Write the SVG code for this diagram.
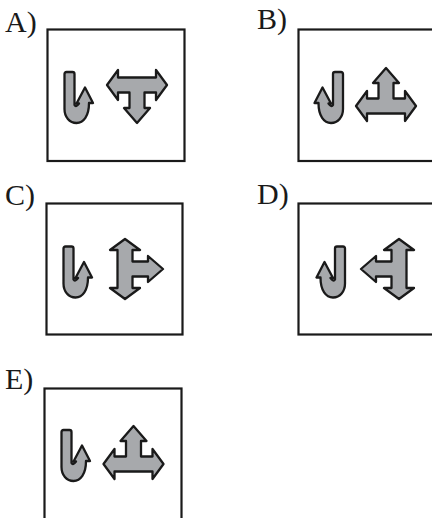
<svg xmlns="http://www.w3.org/2000/svg" xmlns:xlink="http://www.w3.org/1999/xlink" width="432" height="518" viewBox="0 0 432 518">
<style>
.box{fill:none;stroke:#1a1a1a;stroke-width:2.2}
.shape{fill:#a7a9ac;stroke:#1a1a1a;stroke-width:2.3;stroke-linejoin:round}
.lbl{font-family:"Liberation Serif","Times New Roman",serif;font-size:30px;fill:#1a1a1a}
</style>
<defs>
<path id="hook" class="shape" d="M -5 2 Q -5 0 -3 0 L 3 0 Q 5 0 5 2 L 5 33 Q 6.5 35.5 9.5 31.5 L 7 31.5 L 15.5 15.5 L 23.5 31 L 19.5 31 C 19.5 44 14 51 7 51 C 0 51 -5 45 -5 37 Z"/>
<path id="tee" class="shape" d="M -30 0 L -19 -15 L -19 -7.5 L 19 -7.5 L 19 -15 L 30 0 L 19 15 L 19 7.5 L 7.5 7.5 L 7.5 23 L 13 23 L 0 38 L -13 23 L -7.5 23 L -7.5 7.5 L -19 7.5 L -19 15 Z"/>
</defs>
<g id="optionA">
<text class="lbl" x="5" y="32">A)</text>
<rect class="box" x="47.5" y="29.5" width="137" height="131.5"/>
<use xlink:href="#hook" href="#hook" transform="translate(69.5,72)"/>
<use xlink:href="#tee" href="#tee" transform="translate(137,85)"/>
</g>
<g id="optionB">
<text class="lbl" x="257" y="29">B)</text>
<rect class="box" x="298.5" y="29.5" width="137" height="131.5"/>
<use xlink:href="#hook" href="#hook" transform="translate(338,72) scale(-1,1)"/>
<use xlink:href="#tee" href="#tee" transform="translate(386,106) scale(1,-1)"/>
</g>
<g id="optionC">
<text class="lbl" x="5" y="205">C)</text>
<rect class="box" x="46.5" y="203.5" width="136" height="131"/>
<use xlink:href="#hook" href="#hook" transform="translate(68.5,246.5)"/>
<use xlink:href="#tee" href="#tee" transform="translate(125,269) rotate(-90)"/>
</g>
<g id="optionD">
<text class="lbl" x="257" y="204">D)</text>
<rect class="box" x="298.5" y="203.5" width="137" height="131"/>
<use xlink:href="#hook" href="#hook" transform="translate(340,246.5) scale(-1,1)"/>
<use xlink:href="#tee" href="#tee" transform="translate(399,269) rotate(90)"/>
</g>
<g id="optionE">
<text class="lbl" x="5" y="389">E)</text>
<rect class="box" x="44.5" y="388.5" width="137" height="131"/>
<use xlink:href="#hook" href="#hook" transform="translate(66.5,430)"/>
<use xlink:href="#tee" href="#tee" transform="translate(133.5,464) scale(1,-1)"/>
</g>
<g id="connectors"/>
</svg>
